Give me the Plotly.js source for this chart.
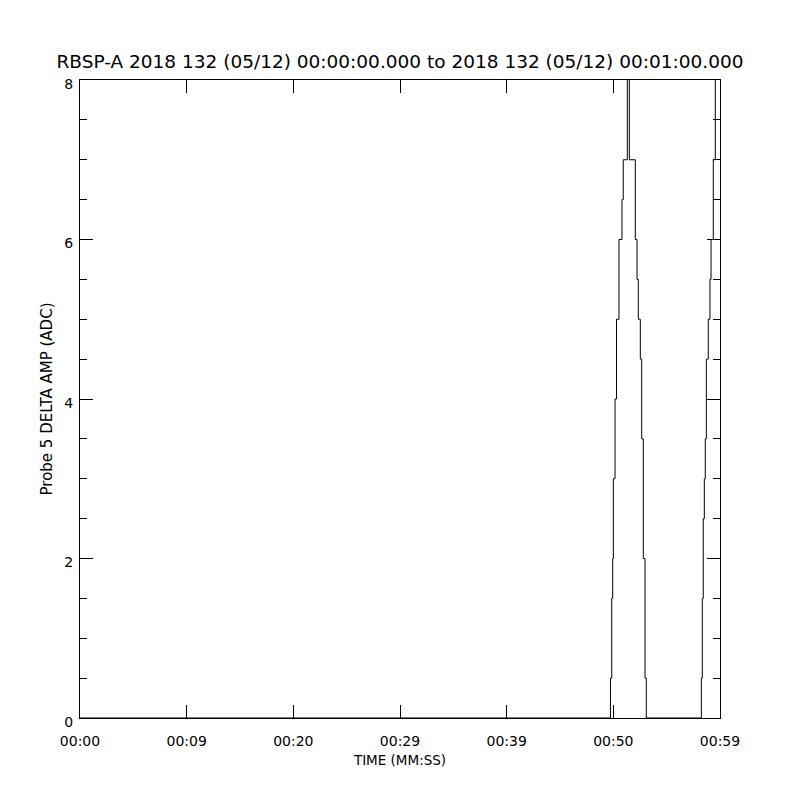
<!DOCTYPE html>
<html>
<head>
<meta charset="utf-8">
<script src="https://cdn.plot.ly/plotly-3.0.1.min.js"></script>
<style>html,body{margin:0;padding:0;background:#fff;}#chart{width:800px;height:800px;}</style>
</head>
<body>
<div id="chart"></div>
<script>
// Time in seconds after 00:00:00 and probe 5 delta amplitude (ADC)
const timeSec = [0, 49.73, 49.85, 49.94, 50.00, 50.16, 50.30, 50.53, 50.81, 50.93, 51.31, 51.50,
  52.06, 52.22, 52.34, 52.53, 52.66, 52.81, 52.97, 53.09,
  58.25, 58.34, 58.43, 58.53, 58.62, 58.72, 58.90, 59.06, 59.16, 59.37, 59.56, 60];
const deltaAmp = [0, 0.5, 1.5, 2, 3, 4, 5, 6, 6.5, 7, 9, 7,
  6, 5.5, 5, 4.5, 3.5, 2, 0.5, 0,
  0.5, 1.5, 2.5, 3, 3.5, 4.5, 5, 5.5, 6, 7, 9, 9];
const xTickVals = [0, 10, 20, 30, 40, 50, 60];
const xTickText = ['00:00', '00:09', '00:20', '00:29', '00:39', '00:50', '00:59'];
const yTickVals = [0, 2, 4, 6, 8];

const font = {family: 'DejaVu Sans, sans-serif', color: '#000'};

const trace = {
  x: timeSec, y: deltaAmp, type: 'scatter', mode: 'lines',
  line: {color: '#000', width: 1, shape: 'hv'}, hoverinfo: 'skip'
};

const layout = {
  width: 800, height: 800,
  margin: {l: 80, r: 80, t: 80, b: 82, pad: 0},
  paper_bgcolor: '#fff', plot_bgcolor: '#fff',
  showlegend: false,
  font: Object.assign({size: 14}, font),
  title: {
    text: 'RBSP-A 2018 132 (05/12) 00:00:00.000 to 2018 132 (05/12) 00:01:00.000',
    font: Object.assign({size: 18.5}, font),
    x: 0.5, xanchor: 'center', xref: 'paper',
    y: 1 - 62 / 800, yref: 'container', yanchor: 'middle'
  },
  xaxis: {
    range: [0, 60], tickmode: 'array', tickvals: xTickVals, ticktext: xTickText,
    ticks: 'inside', ticklen: 13, tickwidth: 1, tickcolor: '#000',
    showline: true, linecolor: '#000', linewidth: 1, mirror: 'ticks',
    showgrid: false, zeroline: false,
    ticklabelstandoff: 10,
    tickfont: Object.assign({size: 14}, font),
    title: {text: 'TIME (MM:SS)', font: Object.assign({size: 13.5}, font), standoff: 7}
  },
  yaxis: {
    range: [0, 8], tickmode: 'array', tickvals: yTickVals,
    ticks: 'inside', ticklen: 13, tickwidth: 1, tickcolor: '#000',
    minor: {dtick: 0.5, ticks: 'inside', ticklen: 7, tickwidth: 1, tickcolor: '#000', showgrid: false},
    showline: true, linecolor: '#000', linewidth: 1, mirror: 'ticks',
    showgrid: false, zeroline: false,
    ticklabelstandoff: 3,
    ticklabelshift: 4,
    tickfont: Object.assign({size: 14}, font),
    title: {text: 'Probe 5 DELTA AMP (ADC)', font: Object.assign({size: 15}, font), standoff: 8}
  }
};

Plotly.newPlot('chart', [trace], layout, {staticPlot: true, displayModeBar: false});
</script>
</body>
</html>
